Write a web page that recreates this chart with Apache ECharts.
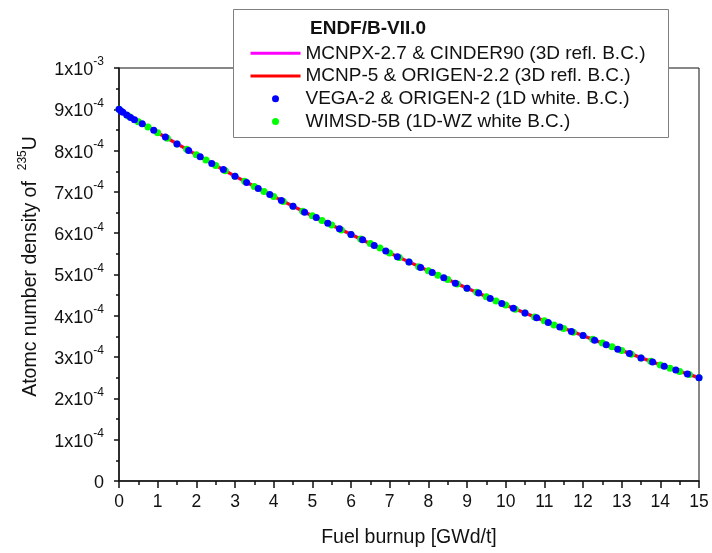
<!DOCTYPE html>
<html>
<head>
<meta charset="utf-8">
<script src="https://cdn.jsdelivr.net/npm/echarts@6/dist/echarts.min.js"></script>
<style>
html,body{margin:0;padding:0;background:#fff;}
#chart{width:712px;height:553px;}
</style>
</head>
<body>
<div id="chart"></div>
<script>
// Fuel burnup [GWd/t] and 235U atomic number density (units of 1e-4)
const lineBurnup = [0,1,2,3,4,5,6,7,8,9,10,11,12,13,14,15];
const mcnpxDensity = [9.00,8.43,7.90,7.38,6.89,6.42,5.97,5.52,5.09,4.67,4.26,3.88,3.52,3.16,2.81,2.50];
const mcnp5Density = [9.00,8.43,7.90,7.38,6.89,6.42,5.97,5.52,5.09,4.67,4.26,3.88,3.52,3.16,2.81,2.50];

const vegaBurnup = [0,0.05,0.1,0.2,0.3,0.4,0.6,0.9,1.2,1.5,1.8,2.1,2.4,2.7,3.0,3.3,3.6,3.9,4.2,4.5,4.8,5.1,5.4,5.7,6.0,6.3,6.6,6.9,7.2,7.5,7.8,8.1,8.4,8.7,9.0,9.3,9.6,9.9,10.2,10.5,10.8,11.1,11.4,11.7,12.0,12.3,12.6,12.9,13.2,13.5,13.8,14.1,14.4,14.7,15.0];
const vegaDensity = [9.00,8.96,8.93,8.86,8.80,8.75,8.65,8.49,8.33,8.16,8.00,7.85,7.69,7.54,7.38,7.23,7.08,6.94,6.79,6.65,6.51,6.38,6.24,6.11,5.97,5.84,5.70,5.57,5.43,5.30,5.17,5.05,4.92,4.79,4.67,4.55,4.42,4.30,4.18,4.07,3.95,3.84,3.73,3.62,3.52,3.41,3.30,3.19,3.09,2.98,2.88,2.78,2.69,2.59,2.50];

const wimsBurnup = [0,0.25,0.5,0.75,1.0,1.25,1.5,1.75,2.0,2.25,2.5,2.75,3.0,3.25,3.5,3.75,4.0,4.25,4.5,4.75,5.0,5.25,5.5,5.75,6.0,6.25,6.5,6.75,7.0,7.25,7.5,7.75,8.0,8.25,8.5,8.75,9.0,9.25,9.5,9.75,10.0,10.25,10.5,10.75,11.0,11.25,11.5,11.75,12.0,12.25,12.5,12.75,13.0,13.25,13.5,13.75,14.0,14.25,14.5,14.75,15.0];
const wimsDensity = [9.00,8.83,8.70,8.57,8.43,8.30,8.16,8.03,7.90,7.77,7.64,7.51,7.38,7.26,7.13,7.01,6.89,6.77,6.65,6.53,6.42,6.31,6.20,6.08,5.97,5.86,5.75,5.64,5.52,5.41,5.30,5.19,5.09,4.98,4.88,4.77,4.67,4.57,4.46,4.36,4.26,4.16,4.07,3.97,3.88,3.78,3.69,3.60,3.52,3.43,3.34,3.25,3.16,3.07,2.98,2.90,2.81,2.73,2.65,2.58,2.50];

const xTicks = [0,1,2,3,4,5,6,7,8,9,10,11,12,13,14,15];
const seriesNames = ['MCNPX-2.7 & CINDER90 (3D refl. B.C.)','MCNP-5 & ORIGEN-2.2 (3D refl. B.C.)','VEGA-2 & ORIGEN-2 (1D white. B.C.)','WIMSD-5B (1D-WZ white B.C.)'];
const legendTitle = 'ENDF/B-VII.0';

const zip = (xs, ys) => xs.map((x, i) => [x, ys[i]]);
const FONT = 'Liberation Sans, Arial, sans-serif';
const hiddenDot = {color: 'rgba(0,0,0,0)', borderWidth: 0, opacity: 0};

const chart = echarts.init(document.getElementById('chart'), null, {renderer: 'canvas'});
chart.setOption({
  animation: false,
  backgroundColor: '#fff',
  grid: {left: 119, right: 13, top: 68, bottom: 69, show: true, borderColor: '#111', borderWidth: 1, backgroundColor: 'transparent'},
  xAxis: {
    type: 'value', min: 0, max: 15, interval: 1,
    name: 'Fuel burnup [GWd/t]', nameLocation: 'middle', nameGap: 47,
    nameTextStyle: {fontFamily: FONT, fontSize: 19.5, color: '#111'},
    axisLine: {show: true, onZero: false, lineStyle: {color: '#111', width: 1.5}},
    axisTick: {show: true, inside: false, length: 7, lineStyle: {color: '#111', width: 1.5}},
    minorTick: {show: true, splitNumber: 2, length: 4, lineStyle: {color: '#111', width: 1.5}},
    axisLabel: {fontFamily: FONT, fontSize: 17.5, color: '#111', margin: 12,
      formatter: v => xTicks.includes(Math.round(v)) ? String(Math.round(v)) : ''},
    splitLine: {show: false}
  },
  yAxis: {
    type: 'value', min: 0, max: 10, interval: 1,
    name: '{n|Atomc number density of  }{s|235}{n|U}', nameLocation: 'middle', nameGap: 75, nameRotate: 90,
    nameTextStyle: {fontFamily: FONT, fontSize: 19.5, color: '#111', padding: [0,0,0,16],
      rich: {n: {fontFamily: FONT, fontSize: 19.5, color: '#111'}, s: {fontFamily: FONT, fontSize: 12, color: '#111', padding: [0,0,15,0]}}},
    axisLine: {show: true, onZero: false, lineStyle: {color: '#111', width: 1.5}},
    axisTick: {show: true, inside: false, length: 5, lineStyle: {color: '#111', width: 1.5}},
    minorTick: {show: true, splitNumber: 2, length: 3, lineStyle: {color: '#111', width: 1.5}},
    axisLabel: {margin: 15, color: '#111',
      formatter: v => {
        const n = Math.round(v);
        if (n === 0) return '{a|0}';
        if (n === 10) return '{a|1x10}{b|-3}';
        return '{a|' + n + 'x10}{b|-4}';
      },
      rich: {a: {fontFamily: FONT, fontSize: 18, color: '#111', padding: [4,0,0,0]}, b: {fontFamily: FONT, fontSize: 12, color: '#111', padding: [0,0,12,0]}}
    },
    splitLine: {show: false}
  },
  legend: {
    show: true, orient: 'vertical', left: 249, top: 42.5, padding: 0, itemGap: 1,
    itemWidth: 50, itemHeight: 7, z: 20,
    textStyle: {fontFamily: FONT, fontSize: 19, color: '#111', lineHeight: 21.7},
    data: [
      {name: seriesNames[0], lineStyle: {width: 3}, itemStyle: hiddenDot},
      {name: seriesNames[1], lineStyle: {width: 3}, itemStyle: hiddenDot},
      {name: seriesNames[2], icon: 'circle'},
      {name: seriesNames[3], icon: 'circle'}
    ]
  },
  graphic: [
    {type: 'rect', z: 15, shape: {x: 233.5, y: 9.5, width: 435, height: 128}, style: {fill: '#fff', stroke: '#808080', lineWidth: 1}},
    {type: 'text', z: 25, left: 310, top: 19, style: {text: legendTitle, font: 'bold 19px ' + FONT, fill: '#111'}}
  ],
  series: [
    {name: seriesNames[0], type: 'line', z: 2, data: zip(lineBurnup, mcnpxDensity), symbol: 'none', showSymbol: false,
      lineStyle: {color: '#ff00ff', width: 3.5}, itemStyle: {color: '#ff00ff'}},
    {name: seriesNames[1], type: 'line', z: 3, data: zip(lineBurnup, mcnp5Density), symbol: 'none', showSymbol: false,
      lineStyle: {color: '#ff0000', width: 2.5}, itemStyle: {color: '#ff0000'}},
    {name: seriesNames[2], type: 'scatter', z: 5, data: zip(vegaBurnup, vegaDensity), symbol: 'circle', symbolSize: 7,
      itemStyle: {color: '#0000ff', opacity: 1}},
    {name: seriesNames[3], type: 'scatter', z: 4, data: zip(wimsBurnup, wimsDensity), symbol: 'circle', symbolSize: 7,
      itemStyle: {color: '#00ff00', opacity: 1}}
  ]
});
</script>
</body>
</html>
